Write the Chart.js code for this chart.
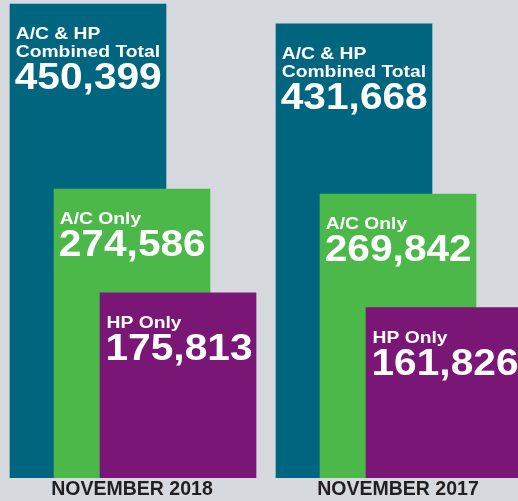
<!DOCTYPE html>
<html><head><meta charset="utf-8">
<style>html,body{margin:0;padding:0;background:#d6d9de;}#wrap{width:518px;height:501px;position:relative;}</style>
<script src="https://cdn.jsdelivr.net/npm/chart.js@4"></script>
</head><body><div id="wrap"><canvas id="c"></canvas></div>
<script>
const categories = ['NOVEMBER 2018', 'NOVEMBER 2017'];
const seriesNames = ['A/C & HP\nCombined Total', 'A/C Only', 'HP Only'];
const combinedTotal = [450399, 431668];
const acOnly = [274586, 269842];
const hpOnly = [175813, 161826];

const FONT = '"Liberation Sans", Arial, Helvetica, sans-serif';
const colors = ['#00657f', '#4db84a', '#7a1675'];
const shifts = [-44 / 266, 0, 46 / 266];   // horizontal overlap of the three bars in a group
const seriesValues = [combinedTotal, acOnly, hpOnly];

const datasets = seriesValues.map((vals, k) => ({
  label: seriesNames[k],
  data: vals.map((v, i) => ({ x: i + shifts[k], y: v })),
  backgroundColor: colors[k],
  borderWidth: 0,
  barThickness: 156,
  grouped: false,
  order: 3 - k
}));

const barLabels = {
  id: 'barLabels',
  afterDatasetsDraw(chart) {
    const ctx = chart.ctx;
    chart.data.datasets.forEach((ds, k) => {
      const meta = chart.getDatasetMeta(k);
      const lines = ds.label.split('\n');
      meta.data.forEach((el, i) => {
        const left = el.x - el.width / 2;
        const top = el.y;
        const dx = k === 2 ? 6.5 : 5.7;
        ctx.save();
        ctx.fillStyle = '#ffffff';
        ctx.textBaseline = 'alphabetic';
        ctx.textAlign = 'left';
        ctx.font = 'bold 16.5px ' + FONT;
        let base = top + 35;
        lines.forEach((ln, j) => {
          base = top + 35 + j * 18;
          ctx.save();
          ctx.translate(left + dx, base);
          ctx.scale(1.17, 1);
          ctx.fillText(ln, 0, 0);
          ctx.restore();
        });
        ctx.font = 'bold 36px ' + FONT;
        ctx.save();
        ctx.translate(left + dx - 1, base + 32.5);
        ctx.scale(1.13, 1);
        ctx.fillText(ds.data[i].y.toLocaleString('en-US'), 0, 0);
        ctx.restore();
        ctx.restore();
      });
    });
  }
};

new Chart(document.getElementById('c'), {
  type: 'bar',
  data: { datasets },
  plugins: [barLabels],
  options: {
    responsive: true,
    maintainAspectRatio: false,
    animation: false,
    layout: { padding: 0 },
    plugins: { legend: { display: false }, tooltip: { enabled: false } },
    scales: {
      x: {
        type: 'linear',
        min: -132 / 266,
        max: -132 / 266 + 518 / 266,
        offset: false,
        grid: { display: false, drawTicks: false },
        border: { display: false },
        afterBuildTicks: (scale) => { scale.ticks = categories.map((_, i) => ({ value: i })); },
        ticks: {
          autoSkip: false,
          maxRotation: 0,
          padding: 2,
          color: '#231f20',
          font: { family: FONT, size: 19.5, weight: 'bold', lineHeight: 0.98 },
          callback: (v) => categories[v]
        }
      },
      y: { display: false, min: 0, max: 454200 }
    }
  }
});
</script>
</body></html>
